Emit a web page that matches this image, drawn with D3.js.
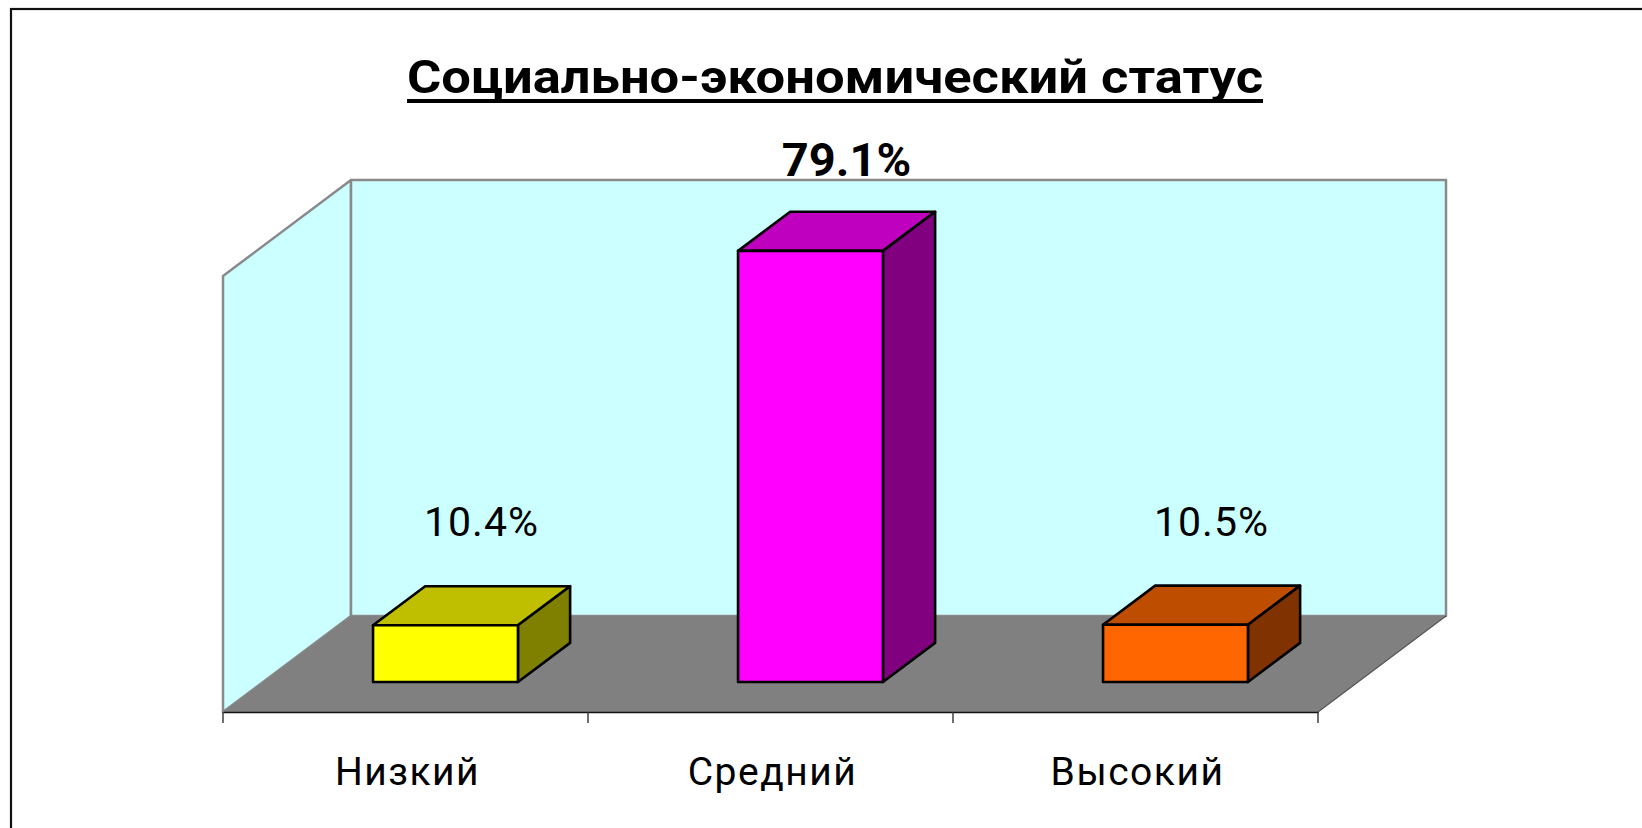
<!DOCTYPE html>
<html>
<head>
<meta charset="utf-8">
<script src="https://cdn.jsdelivr.net/npm/d3@7"></script>
<style>
  html, body { margin: 0; padding: 0; background: #ffffff; }
  svg { display: block; }
</style>
</head>
<body>
<svg id="chart" width="1642" height="828"></svg>
<script>
// Data
const categories = ["Низкий", "Средний", "Высокий"];
const values = [10.4, 79.1, 10.5];
const valueLabels = ["10.4%", "79.1%", "10.5%"];
const valueDomain = [0, 80];
const titleText = "Социально-экономический статус";

// Palette (front faces); top and side faces are shaded from these
const palette = ["#ffff00", "#ff00ff", "#ff6600"];

const W = 1642, H = 828;
const svg = d3.select("#chart");

// Front plane of the 3D box and its depth vector
const plot = { left: 223, right: 1318, bottom: 712, height: 436 };
const depth = { dx: 128, dy: -96 };
const barDepth = [0.3125, 0.72];   // front / back of the bars as fractions of the depth
const barWidthRatio = 0.397;

const x = d3.scaleBand().domain(categories).range([plot.left, plot.right]);
const y = d3.scaleLinear().domain(valueDomain).range([plot.bottom, plot.bottom - plot.height]);
const color = d3.scaleOrdinal().domain(categories).range(palette);

const shade = (c, k) => {
  const r = d3.rgb(c);
  return d3.rgb(Math.round(r.r * k), Math.round(r.g * k), Math.round(r.b * k)).formatHex();
};
const pts = arr => arr.map(p => p.join(",")).join(" ");

// Outer frame
svg.append("rect")
  .attr("x", 11).attr("y", 9)
  .attr("width", W + 20).attr("height", H + 20)
  .attr("fill", "none").attr("stroke", "#111").attr("stroke-width", 2.2);

// Title (condensed, underlined)
svg.append("text")
  .attr("x", 835).attr("y", 93)
  .attr("text-anchor", "middle")
  .attr("font-family", "Roboto, 'Liberation Sans', sans-serif")
  .attr("font-weight", "bold")
  .attr("font-size", 46)
  .attr("textLength", 856)
  .attr("lengthAdjust", "spacingAndGlyphs")
  .attr("fill", "#000")
  .text(titleText);
svg.append("line")
  .attr("x1", 835 - 428).attr("x2", 835 + 428)
  .attr("y1", 101).attr("y2", 101)
  .attr("stroke", "#000").attr("stroke-width", 4);

// Walls and floor
const yTop = y(valueDomain[1]);
const x0 = plot.left, x1 = plot.right, yb = plot.bottom;
const D = (px, py, f) => [px + depth.dx * f, py + depth.dy * f];

const wallFill = "#ccffff", wallStroke = "#8a8a8a";

// left wall
svg.append("polygon")
  .attr("points", pts([[x0, yTop], D(x0, yTop, 1), D(x0, yb, 1), [x0, yb]]))
  .attr("fill", wallFill).attr("stroke", wallStroke).attr("stroke-width", 2.5)
  .attr("stroke-linejoin", "round");
// back wall
svg.append("polygon")
  .attr("points", pts([D(x0, yTop, 1), D(x1, yTop, 1), D(x1, yb, 1), D(x0, yb, 1)]))
  .attr("fill", wallFill).attr("stroke", wallStroke).attr("stroke-width", 2.5)
  .attr("stroke-linejoin", "round");
// floor
svg.append("polygon")
  .attr("points", pts([[x0, yb], [x1, yb], D(x1, yb, 1), D(x0, yb, 1)]))
  .attr("fill", "#808080").attr("stroke", "none");
svg.append("line")
  .attr("x1", x1).attr("y1", yb)
  .attr("x2", D(x1, yb, 1)[0]).attr("y2", D(x1, yb, 1)[1])
  .attr("stroke", "#555").attr("stroke-width", 1.2);

// Bars
const bars = svg.append("g").selectAll("g.bar")
  .data(categories.map((c, i) => ({ c, v: values[i], label: valueLabels[i], i })))
  .join("g").attr("class", "bar");

bars.each(function (d) {
  const g = d3.select(this);
  const bw = x.bandwidth() * barWidthRatio;
  const cx = x(d.c) + x.bandwidth() / 2;
  const [fl, fb] = D(cx - bw / 2, y(0), barDepth[0]);
  const fr = fl + bw;
  const ft = fb - (y(0) - y(d.v));
  const ddx = depth.dx * (barDepth[1] - barDepth[0]);
  const ddy = depth.dy * (barDepth[1] - barDepth[0]);
  const base = color(d.c);
  const common = sel => sel.attr("stroke", "#000").attr("stroke-width", 2.6).attr("stroke-linejoin", "round");

  g.append("polygon")
    .attr("points", pts([[fl, ft], [fr, ft], [fr + ddx, ft + ddy], [fl + ddx, ft + ddy]]))
    .attr("fill", shade(base, 0.75)).call(common);
  g.append("polygon")
    .attr("points", pts([[fr, ft], [fr + ddx, ft + ddy], [fr + ddx, fb + ddy], [fr, fb]]))
    .attr("fill", shade(base, 0.5)).call(common);
  g.append("rect")
    .attr("x", fl).attr("y", ft).attr("width", bw).attr("height", fb - ft)
    .attr("fill", base).call(common);
});

// Value labels; the largest value is emphasised
const maxV = d3.max(values);
const isMax = d => d.v === maxV;
bars.append("text")
  .attr("x", d => x(d.c) + x.bandwidth() / 2 + 76)
  .attr("y", d => y(d.v) - 30 - (isMax(d) ? 92 : 104))
  .attr("dy", "0.36em")
  .attr("text-anchor", "middle")
  .attr("font-family", "Roboto, 'Liberation Sans', sans-serif")
  .attr("font-weight", d => isMax(d) ? "bold" : "normal")
  .attr("font-size", d => isMax(d) ? 47 : 41)
  .attr("letter-spacing", d => isMax(d) ? 0 : 1)
  .attr("fill", "#000")
  .text(d => d.label);

// Category axis along the front edge of the floor
const axis = d3.axisBottom(x).tickSize(0).tickPadding(0).tickFormat(() => "");
const axisG = svg.append("g").attr("transform", `translate(0,${yb})`).call(axis);
axisG.select(".domain").attr("stroke", "#111").attr("stroke-width", 1.6);
axisG.selectAll(".tick").remove();

const edges = [...categories.map(c => x(c)), plot.right];
svg.append("g").selectAll("line")
  .data(edges)
  .join("line")
  .attr("x1", d => d).attr("x2", d => d)
  .attr("y1", yb).attr("y2", yb + 11)
  .attr("stroke", "#333").attr("stroke-width", 1.4);

svg.append("g").selectAll("text")
  .data(categories)
  .join("text")
  .attr("x", d => x(d) + x.bandwidth() / 2 + 2)
  .attr("y", 785)
  .attr("text-anchor", "middle")
  .attr("font-family", "Roboto, 'Liberation Sans', sans-serif")
  .attr("font-size", 39)
  .attr("letter-spacing", 1.5)
  .attr("fill", "#000")
  .text(d => d);
</script>
</body>
</html>
